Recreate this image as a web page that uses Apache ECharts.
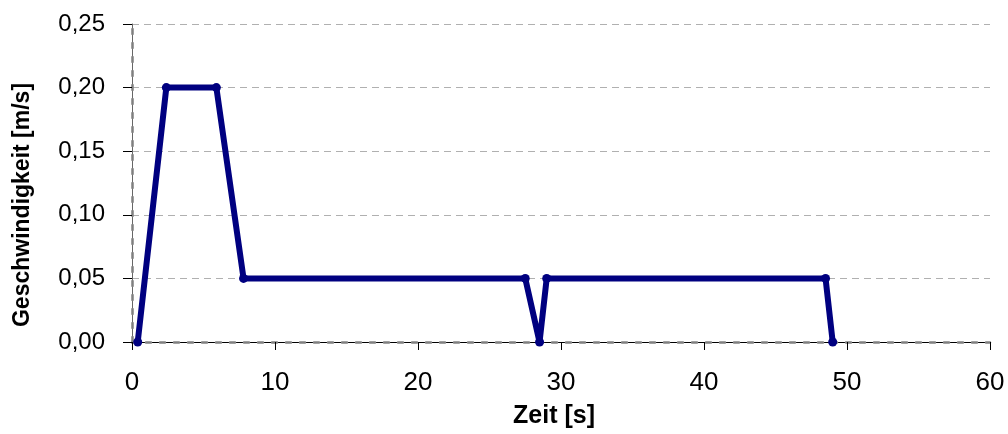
<!DOCTYPE html>
<html>
<head>
<meta charset="utf-8">
<script src="https://cdn.jsdelivr.net/npm/echarts@6/dist/echarts.min.js"></script>
<style>
  html, body { margin: 0; padding: 0; background: #fff; }
  #chart { width: 1008px; height: 434px; }
</style>
</head>
<body>
<div id="chart"></div>
<script>
// Zeitpunkte [s] und Geschwindigkeiten [m/s]
const zeit = [0.4, 2.4, 5.9, 7.8, 27.5, 28.5, 29.0, 48.5, 49.0];
const geschwindigkeit = [0.00, 0.20, 0.20, 0.05, 0.05, 0.00, 0.05, 0.05, 0.00];
const xTicks = [0, 10, 20, 30, 40, 50, 60];
const yTicks = [0.00, 0.05, 0.10, 0.15, 0.20, 0.25];

const font = 'Liberation Sans, Arial, sans-serif';
const points = zeit.map((t, i) => [t, geschwindigkeit[i]]);
const dotted = { color: '#808080', width: 2.5, type: [5, 9] };

const chart = echarts.init(document.getElementById('chart'), null, { renderer: 'canvas' });
chart.setOption({
  animation: false,
  backgroundColor: '#ffffff',
  grid: { left: 132, right: 18, top: 24, bottom: 92, containLabel: false },
  xAxis: [
    {
      type: 'value',
      min: xTicks[0], max: xTicks[xTicks.length - 1], interval: 10,
      name: 'Zeit [s]', nameLocation: 'middle', nameGap: 62,
      nameTextStyle: { fontFamily: font, fontWeight: 'bold', fontSize: 25, color: '#000', padding: [0, 14, 0, 0] },
      axisLine: { show: true, lineStyle: { color: '#000', width: 1 } },
      axisTick: { show: true, inside: false, length: 8, lineStyle: { color: '#000' } },
      axisLabel: { fontFamily: font, fontSize: 26, color: '#000', margin: 28 },
      splitLine: { show: false }
    },
    {
      // Rahmen oben
      type: 'value', position: 'top',
      min: xTicks[0], max: xTicks[xTicks.length - 1],
      axisLine: { show: true, lineStyle: dotted },
      axisTick: { show: false }, axisLabel: { show: false }, splitLine: { show: false }
    }
  ],
  yAxis: [
    {
      type: 'value',
      min: yTicks[0], max: yTicks[yTicks.length - 1], interval: 0.05,
      name: 'Geschwindigkeit [m/s]', nameLocation: 'middle', nameGap: 98,
      nameTextStyle: { fontFamily: font, fontWeight: 'bold', fontSize: 23, color: '#000', padding: [0, 44, 0, 0] },
      axisLine: { show: true, lineStyle: { color: '#666', width: 1 } },
      axisTick: { show: true, inside: false, length: 9, lineStyle: { color: '#000' } },
      axisLabel: {
        fontFamily: font, fontSize: 24, color: '#000', margin: 27,
        formatter: v => v.toFixed(2).replace('.', ',')
      },
      splitLine: { show: true, lineStyle: { color: '#b0b0b0', width: 1, type: [7, 5] } }
    },
    {
      // Rahmen rechts
      type: 'value', position: 'right',
      min: yTicks[0], max: yTicks[yTicks.length - 1],
      axisLine: { show: true, lineStyle: dotted },
      axisTick: { show: false }, axisLabel: { show: false }, splitLine: { show: false }
    }
  ],
  series: [
    {
      type: 'line',
      xAxisIndex: 0, yAxisIndex: 0,
      data: points,
      symbol: 'circle', symbolSize: 9,
      lineStyle: { color: '#000080', width: 6 },
      itemStyle: { color: '#000080' },
      clip: false
    }
  ]
});
</script>
</body>
</html>
